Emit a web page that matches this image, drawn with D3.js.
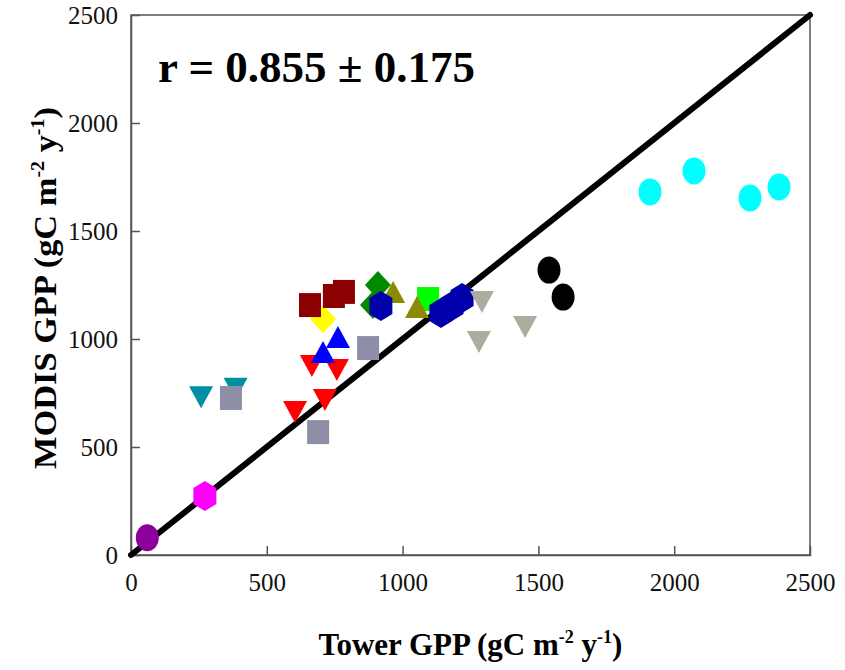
<!DOCTYPE html>
<html>
<head>
<meta charset="utf-8">
<script src="https://cdn.jsdelivr.net/npm/d3@7"></script>
<style>
  body { margin: 0; background: #fff; }
  svg text { font-family: "Liberation Serif", "Times New Roman", serif; }
</style>
</head>
<body>
<div id="chart"></div>
<script>
// tower GPP vs MODIS GPP, one small array per site group
const purpleX = [60], purpleY = [80];
const magentaX = [272], magentaY = [273];
const tealX = [258, 385], tealY = [730, 770];
const graySqX = [368, 689, 873], graySqY = [727, 569, 958];
const redX = [604, 714, 666, 758], redY = [662, 718, 875, 856];
const yellowX = [707], yellowY = [1093];
const blueTriX = [707, 762], blueTriY = [940, 1009];
const darkRedX = [659, 747, 784], darkRedY = [1157, 1199, 1218];
const limeX = [1094], limeY = [1185];
const oliveX = [965, 1053], oliveY = [1218, 1148];
const greenX = [909, 891], greenY = [1250, 1157];
const navyHexX = [920, 1141, 1182, 1219], navyHexY = [1153, 1120, 1153, 1190];
const grayTriX = [1292, 1281, 1451], grayTriY = [1171, 986, 1056];
const blackX = [1539, 1591], blackY = [1319, 1194];
const cyanX = [1911, 2073, 2279, 2386], cyanY = [1681, 1778, 1653, 1704];

const xTicks = [0, 500, 1000, 1500, 2000, 2500];
const yTicks = [0, 500, 1000, 1500, 2000, 2500];
const oneToOne = [0, 2500];

const series = [
  {x: purpleX, y: purpleY, shape: "ellipse", color: "#8c0099"},
  {x: magentaX, y: magentaY, shape: "hexagon", color: "#ff00ff"},
  {x: tealX, y: tealY, shape: "triDown", color: "#008fa3"},
  {x: graySqX, y: graySqY, shape: "square", color: "#8e8ea6"},
  {x: redX, y: redY, shape: "triDown", color: "#ff0000"},
  {x: yellowX, y: yellowY, shape: "diamond", color: "#ffff00"},
  {x: blueTriX, y: blueTriY, shape: "triUp", color: "#0000ff"},
  {x: darkRedX, y: darkRedY, shape: "square", color: "#8b0000"},
  {x: limeX, y: limeY, shape: "square", color: "#00ff00"},
  {x: oliveX, y: oliveY, shape: "triUp", color: "#8c8a00"},
  {x: greenX, y: greenY, shape: "diamond", color: "#008a00"},
  {x: navyHexX, y: navyHexY, shape: "hexagon", color: "#0000aa"},
  {x: grayTriX, y: grayTriY, shape: "triDown", color: "#adad9f"},
  {x: blackX, y: blackY, shape: "ellipse", color: "#000000"},
  {x: cyanX, y: cyanY, shape: "ellipse", color: "#00ffff"}
];

const shapes = {
  ellipse: "M-11.5,0 A11.5,13.5 0 1,0 11.5,0 A11.5,13.5 0 1,0 -11.5,0Z",
  hexagon: "M0,-15L11.5,-8L11.5,8L0,15L-11.5,8L-11.5,-8Z",
  square: "M-11,-12H11V12H-11Z",
  triDown: "M-12,-11L12,-11L0,11Z",
  triUp: "M-12,11L12,11L0,-11Z",
  diamond: "M0,-14L13,0L0,14L-13,0Z"
};

const width = 845, height = 670;
const mLeft = 131, mRight = 810, mTop = 15, mBottom = 555;
const serif = "'Liberation Serif', 'Times New Roman', serif";

const x = d3.scaleLinear().domain([0, 2500]).range([mLeft, mRight]);
const y = d3.scaleLinear().domain([0, 2500]).range([mBottom, mTop]);

const svg = d3.select("#chart").append("svg")
  .attr("width", width)
  .attr("height", height);

// frame
svg.append("rect")
  .attr("x", mLeft).attr("y", mTop)
  .attr("width", mRight - mLeft).attr("height", mBottom - mTop)
  .attr("fill", "none")
  .attr("stroke", "#555")
  .attr("stroke-width", 1.5);

const xAxis = svg.append("g")
  .attr("transform", `translate(0,${mBottom})`)
  .call(d3.axisBottom(x).tickValues(xTicks).tickSize(-9).tickPadding(18).tickFormat(d3.format("d")));
const yAxis = svg.append("g")
  .attr("transform", `translate(${mLeft},0)`)
  .call(d3.axisLeft(y).tickValues(yTicks).tickSize(-9).tickPadding(13).tickFormat(d3.format("d")));

[xAxis, yAxis].forEach(g => {
  g.attr("font-family", null).style("font-family", serif);
  g.select(".domain").attr("stroke", "#555").attr("stroke-width", 1.5);
  g.selectAll(".tick line").attr("stroke", "#555").attr("stroke-width", 1.5);
  g.selectAll(".tick text")
    .style("font-family", serif)
    .attr("font-size", 25)
    .attr("fill", "#111");
});
xAxis.selectAll(".tick").filter(d => d === 0 || d === 2500).select("line").remove();
yAxis.selectAll(".tick").filter(d => d === 0 || d === 2500).select("line").remove();

// 1:1 line
svg.append("line")
  .attr("x1", x(oneToOne[0])).attr("y1", y(oneToOne[0]))
  .attr("x2", x(oneToOne[1])).attr("y2", y(oneToOne[1]))
  .attr("stroke", "#000")
  .attr("stroke-width", 6)
  .attr("stroke-linecap", "round");

// markers
series.forEach(s => {
  svg.append("g").selectAll("path")
    .data(s.x.map((v, i) => [v, s.y[i]]))
    .join("path")
    .attr("d", shapes[s.shape])
    .attr("transform", d => `translate(${x(d[0])},${y(d[1])})`)
    .attr("fill", s.color);
});

svg.append("text")
  .attr("x", 158).attr("y", 82)
  .attr("font-size", 45)
  .attr("font-weight", "bold")
  .text("r = 0.855 \u00b1 0.175");

// axis titles
const xt = svg.append("text")
  .attr("x", (mLeft + mRight) / 2).attr("y", 655)
  .attr("text-anchor", "middle")
  .attr("font-size", 31)
  .attr("font-weight", "bold");
xt.append("tspan").text("Tower GPP (gC m");
xt.append("tspan").attr("dy", -12).attr("font-size", 18).text("-2");
xt.append("tspan").attr("dy", 12).text(" y");
xt.append("tspan").attr("dy", -12).attr("font-size", 18).text("-1");
xt.append("tspan").attr("dy", 12).text(")");

const yt = svg.append("text")
  .attr("transform", `translate(56,288) rotate(-90) scale(1.11,1)`)
  .attr("text-anchor", "middle")
  .attr("font-size", 31)
  .attr("font-weight", "bold");
yt.append("tspan").text("MODIS GPP (gC m");
yt.append("tspan").attr("dy", -12).attr("font-size", 18).text("-2");
yt.append("tspan").attr("dy", 12).text(" y");
yt.append("tspan").attr("dy", -12).attr("font-size", 18).text("-1");
yt.append("tspan").attr("dy", 12).text(")");
</script>
</body>
</html>
